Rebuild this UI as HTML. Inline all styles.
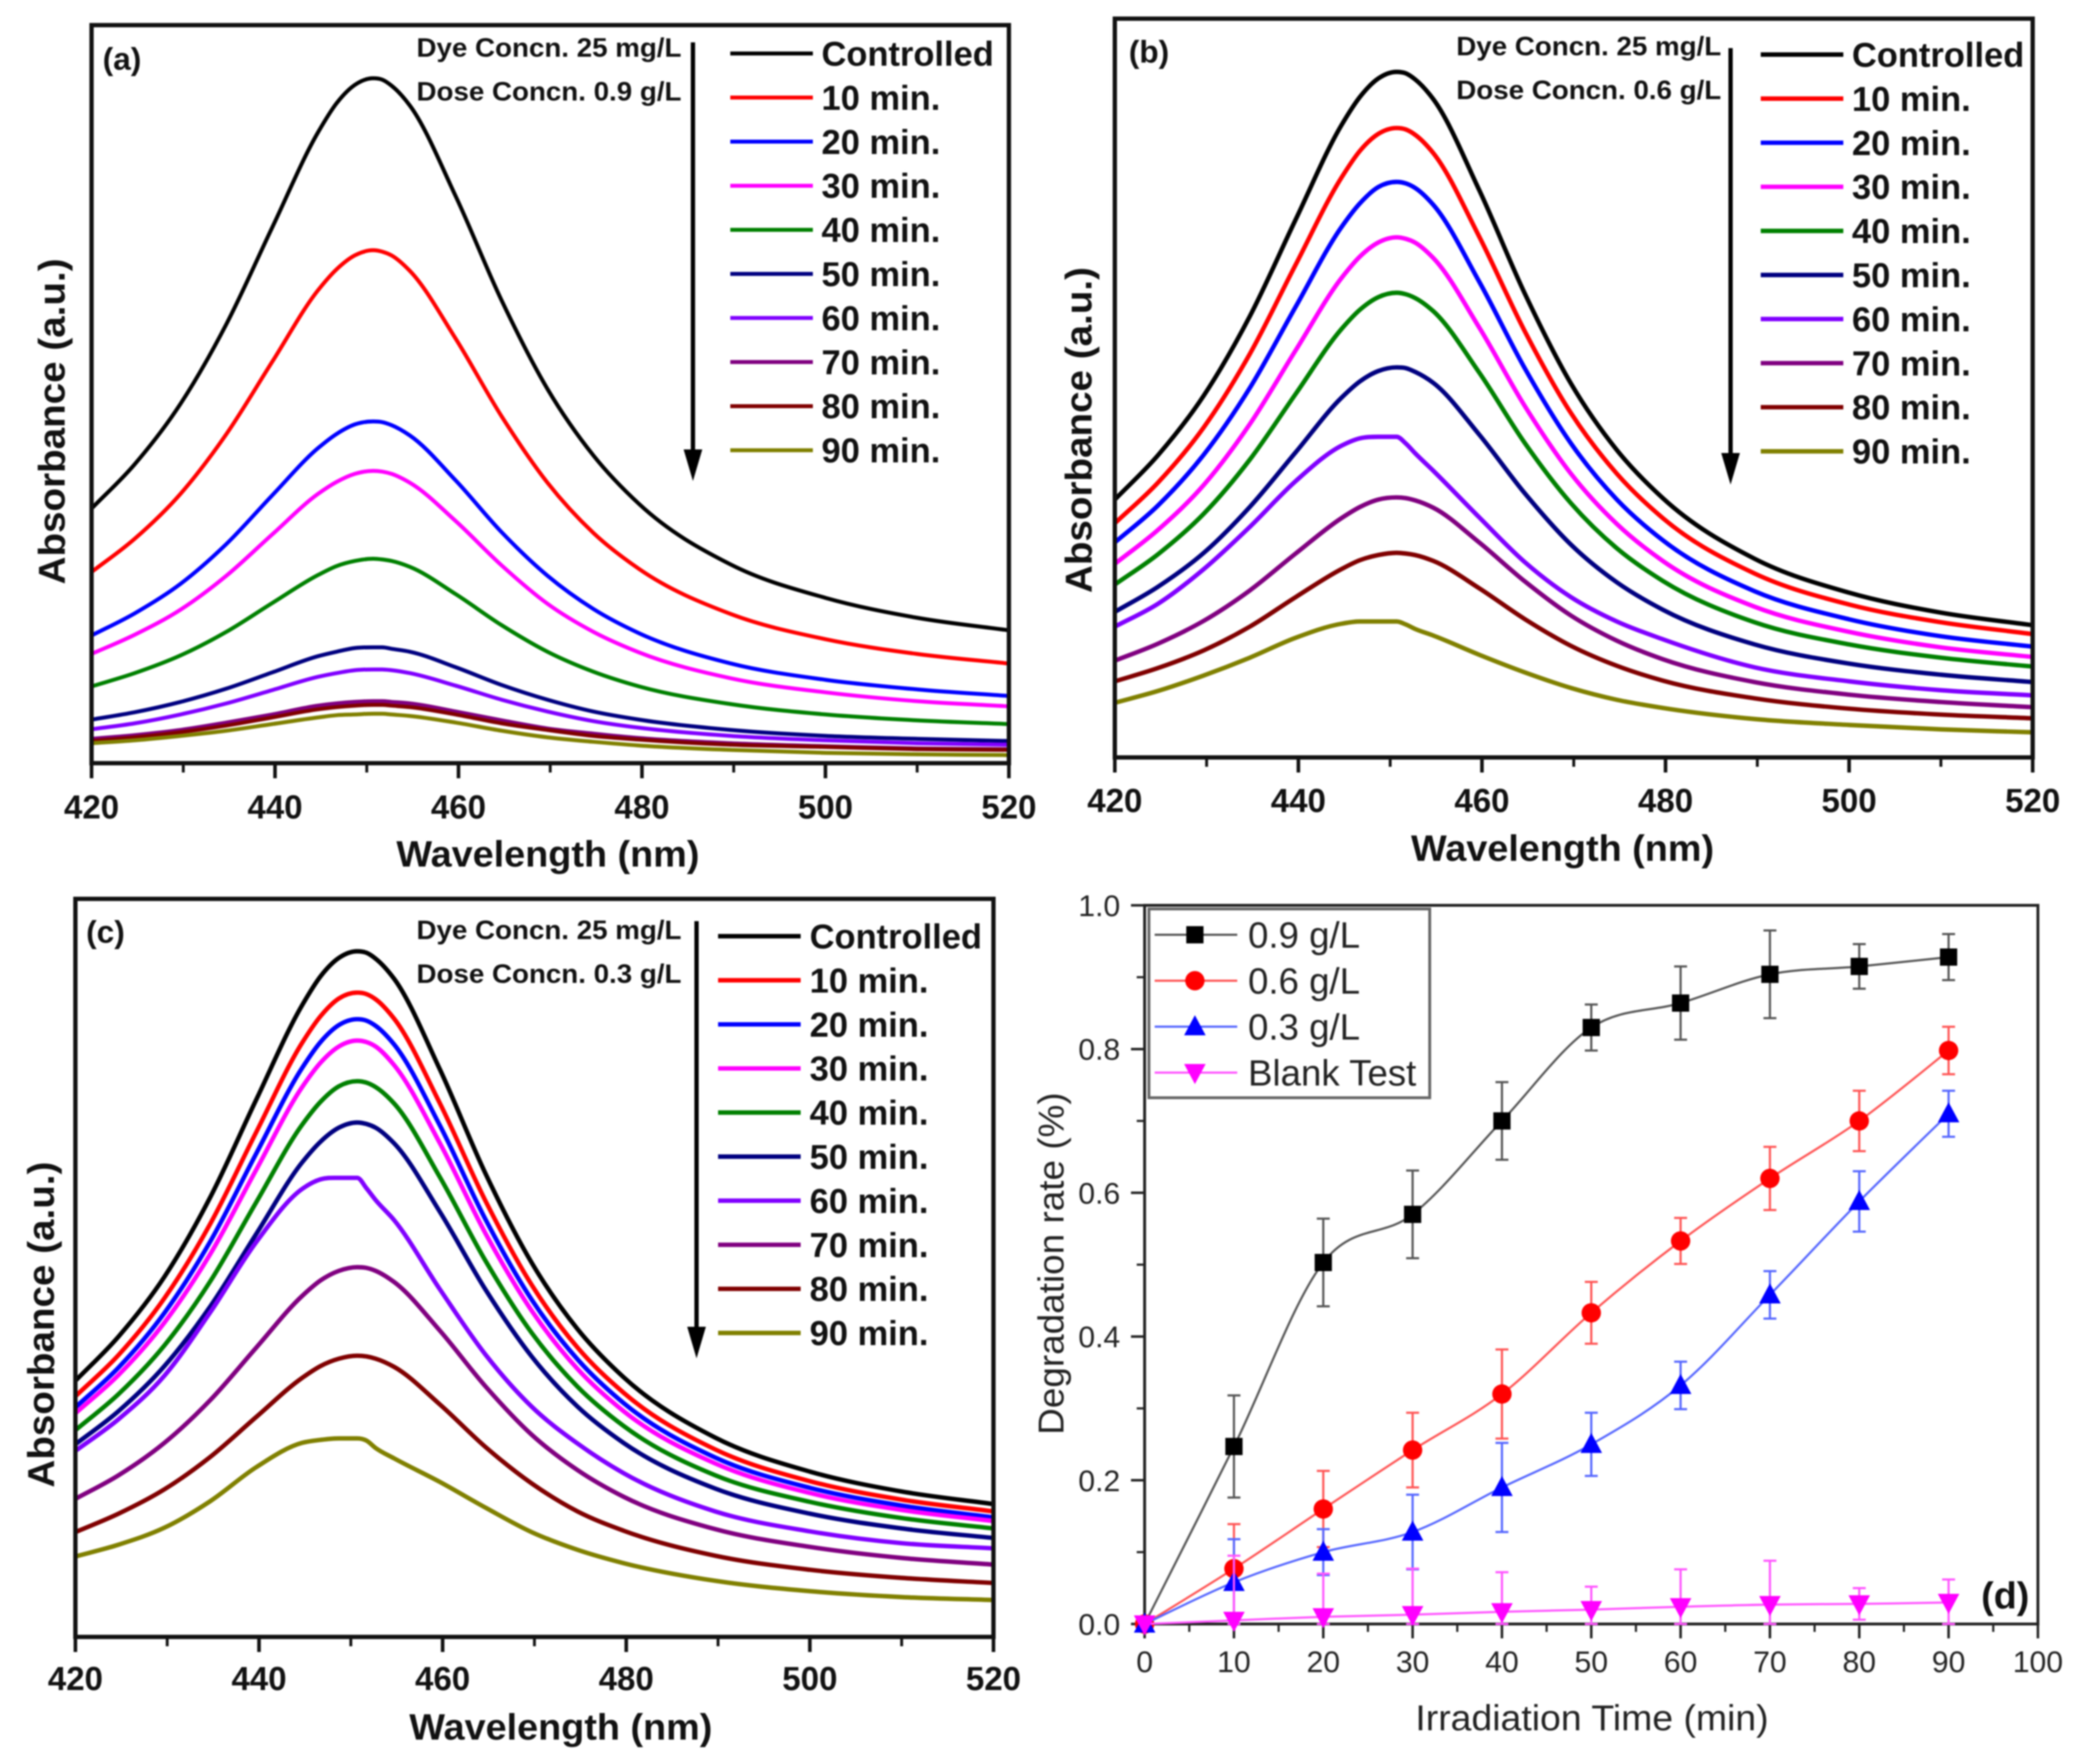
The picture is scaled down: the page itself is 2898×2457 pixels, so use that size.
<!DOCTYPE html>
<html lang="en">
<head>
<meta charset="utf-8">
<title>Absorbance spectra and degradation rate</title>
<style>
html,body{margin:0;padding:0;background:#fff;}
#figure{display:block;filter:blur(1px);font-family:"Liberation Sans",Arial,sans-serif;}
</style>
</head>
<body>
<svg id="figure" xmlns="http://www.w3.org/2000/svg" width="2898" height="2457" viewBox="0 0 2898 2457">
<rect x="0" y="0" width="2898" height="2457" fill="#fff"/>
</svg>
<script>
// ---- Spectra data (absorbance in a.u., axis 0-1000) ----
const wavelengths = [420,424.7,429.7,434.7,439.7,444.7,446.7,448.7,450.7,451.7,452.7,454.7,459.7,464.7,469.7,474.7,479.7,489.7,500,510,520];
const xTickMajor = [420,440,460,480,500,520];
const xTickMinor = [430,450,470,490,510];
const seriesLabels = ['Controlled','10 min.','20 min.','30 min.','40 min.','50 min.','60 min.','70 min.','80 min.','90 min.'];
const seriesColors = ['#000000','#ff0000','#0000ff','#ff00ff','#008000','#000080','#8000ff','#800080','#800000','#808000'];

const aControlled = [345,405,487,595,726,855,894,919,928,926,918,891,768,627,507,417,351,269,224,197,180];
const a10 = [259,304,365,446,544,641,669,688,695,693,688,667,575,470,380,312,263,202,168,148,135];
const a20 = [173,203,243,297,363,427,446,459,463,462,458,444,383,313,254,209,176,135,113,100,91];
const a30 = [148,174,208,254,310,365,381,392,396,395,392,380,328,268,216,178,150,115,96,84,77];
const a40 = [104,122,146,178,217,255,267,274,277,276,274,266,229,187,151,124,104,80,66,58,53];
const a50 = [59,69,83,101,123,145,151,156,157,157,155,151,130,106,86,70,59,45,37,33,30];
const a60 = [46,54,66,81,99,117,122,126,127,127,126,122,105,86,70,57,48,37,31,27,25];
const a70 = [33,38,45,55,66,78,81,83,84,84,83,81,70,58,47,40,34,27,23,20,19];
const a80 = [30,35,42,51,62,73,76,78,79,79,78,76,66,54,45,37,32,25,22,19,18];
const a90 = [27,31,37,44,53,62,65,66,67,67,66,64,55,44,35,29,24,18,14,12,11];

const bControlled = [349,409,490,597,728,856,894,919,928,926,918,891,768,627,506,416,351,269,223,196,179];
const b10 = [317,372,447,546,667,785,821,844,852,850,843,818,705,576,466,384,324,249,207,183,167];
const b20 = [291,341,410,500,610,718,750,772,779,777,771,748,644,526,425,349,294,225,187,164,150];
const b30 = [262,308,369,451,551,649,678,697,704,702,697,676,582,475,384,316,266,204,170,149,136];
const b40 = [234,275,330,403,492,580,606,623,629,627,622,604,521,425,344,283,239,183,153,135,123];
const b50 = [197,231,277,339,413,487,509,523,528,527,522,507,437,357,288,237,200,153,127,112,102];
const b60 = [177,208,255,312,374,422,432,434,434,425,412,388,325,264,217,184,160,122,103,91,84];
const b70 = [131,154,185,226,276,324,339,349,352,351,348,338,291,238,192,158,133,102,85,75,68];
const b80 = [103,121,145,177,217,255,267,274,277,276,274,266,229,187,151,124,104,80,66,58,53];
const b90 = [74,90,111,135,162,181,184,184,184,180,174,165,139,115,94,78,67,52,44,38,34];

const cControlled = [347,407,488,596,728,856,895,920,929,927,919,892,769,627,507,417,352,270,224,197,180];
const c10 = [326,382,459,560,684,805,841,865,873,871,864,838,723,590,477,392,331,254,211,186,170];
const c20 = [311,365,439,536,655,771,806,829,837,835,828,803,693,565,457,376,317,243,202,178,162];
const c30 = [303,355,426,519,633,745,778,800,808,806,800,775,669,546,442,363,306,235,195,172,157];
const c40 = [280,329,395,482,589,694,725,746,753,751,745,723,623,509,412,339,286,219,183,161,147];
const c50 = [261,306,367,448,546,643,671,690,697,695,690,669,576,470,380,312,263,201,167,147,134];
const c60 = [252,295,354,440,535,607,620,622,622,608,592,565,471,382,312,262,222,170,143,127,120];
const c70 = [187,219,263,321,392,462,483,496,501,500,496,481,415,339,274,226,190,146,122,107,98];
const c80 = [142,167,200,244,298,351,367,377,381,380,377,366,315,257,208,170,144,110,91,80,73];
const c90 = [109,125,148,184,230,263,267,269,269,266,256,242,210,175,142,118,100,76,62,54,50];

// ---- Degradation data (panel d) ----
const times = [0,10,20,30,40,50,60,70,80,90];
const dose09 = [0,0.247,0.503,0.570,0.700,0.830,0.864,0.904,0.915,0.928];
const dose06 = [0,0.077,0.160,0.242,0.320,0.433,0.533,0.620,0.700,0.798];
const dose03 = [0,0.058,0.100,0.128,0.190,0.250,0.332,0.458,0.588,0.710];
const blankTest = [0,0.005,0.010,0.013,0.017,0.020,0.024,0.027,0.028,0.030];
const err09 = [0,0.071,0.061,0.061,0.054,0.032,0.051,0.061,0.031,0.032];
const err06 = [0,0.062,0.053,0.052,0.062,0.043,0.032,0.044,0.042,0.033];
const err03 = [0,0.060,0.032,0.052,0.062,0.044,0.033,0.033,0.042,0.032];
const errBlank = [0,0.090,0.060,0.064,0.055,0.032,0.052,0.061,0.022,0.032];
const dTickXMajor = [0,10,20,30,40,50,60,70,80,90,100];
const dTickXMinor = [5,15,25,35,45,55,65,75,85,95];
const dTickYMajor = ['0.0','0.2','0.4','0.6','0.8','1.0'];
const dTickYMinor = [0.1,0.3,0.5,0.7,0.9];

const NS = 'http://www.w3.org/2000/svg';
const root = document.getElementById('figure');
function mk(tag, attrs, parent){
  const n = document.createElementNS(NS, tag);
  for (const k in attrs) n.setAttribute(k, attrs[k]);
  (parent || root).appendChild(n);
  return n;
}
function smooth(pts){
  let d = 'M' + pts[0][0].toFixed(1) + ' ' + pts[0][1].toFixed(1);
  for (let i = 0; i < pts.length - 1; i++){
    const p0 = pts[Math.max(i-1,0)], p1 = pts[i], p2 = pts[i+1], p3 = pts[Math.min(i+2,pts.length-1)];
    const c1x = p1[0] + (p2[0]-p0[0])/6, c1y = p1[1] + (p2[1]-p0[1])/6;
    const c2x = p2[0] - (p3[0]-p1[0])/6, c2y = p2[1] - (p3[1]-p1[1])/6;
    d += 'C' + c1x.toFixed(1) + ' ' + c1y.toFixed(1) + ' ' + c2x.toFixed(1) + ' ' + c2y.toFixed(1) + ' ' + p2[0].toFixed(1) + ' ' + p2[1].toFixed(1);
  }
  return d;
}
// Hermite spline for unevenly spaced x samples
function hermite(pts){
  const n = pts.length;
  const h = [], s = [], m = [];
  for (let i = 0; i < n - 1; i++){
    h[i] = pts[i+1][0] - pts[i][0];
    s[i] = (pts[i+1][1] - pts[i][1]) / h[i];
  }
  m[0] = s[0];
  m[n-1] = s[n-2];
  for (let i = 1; i < n - 1; i++){
    m[i] = (s[i-1] * s[i] <= 0) ? 0 : (h[i] * s[i-1] + h[i-1] * s[i]) / (h[i-1] + h[i]);
  }
  let d = 'M' + pts[0][0].toFixed(2) + ' ' + pts[0][1].toFixed(2);
  for (let i = 0; i < n - 1; i++){
    const t = h[i] / 3;
    d += 'C' + (pts[i][0] + t).toFixed(2) + ' ' + (pts[i][1] + m[i] * t).toFixed(2) + ' ' + (pts[i+1][0] - t).toFixed(2) + ' ' + (pts[i+1][1] - m[i+1] * t).toFixed(2) + ' ' + pts[i+1][0].toFixed(2) + ' ' + pts[i+1][1].toFixed(2);
  }
  return d;
}

function drawSpectra(cfg){
  const g = mk('g', {});
  
  
  const sx = v => cfg.x0 + (v - 420) / 100 * (cfg.x1 - cfg.x0);
  const sy = v => cfg.yb - v / 1000 * (cfg.yb - cfg.yt);

  cfg.series.forEach((vals, i) => {
    const pts = wavelengths.map((w, j) => [sx(w), sy(vals[j])]);
    const p = mk('path', {d: hermite(pts), fill: 'none', stroke: seriesColors[i], 'stroke-width': cfg.lw, 'stroke-linejoin': 'round'}, g);
    
    
  });

  const frame = mk('rect', {x: cfg.x0, y: cfg.yt, width: cfg.x1 - cfg.x0, height: cfg.yb - cfg.yt, fill: 'none', stroke: '#111', 'stroke-width': 6}, g);
  
  

  xTickMajor.forEach(v => {
    const t = mk('line', {x1: sx(v), x2: sx(v), y1: cfg.yb, y2: cfg.yb + 21, stroke: '#111', 'stroke-width': 5}, g);
    
    
    const l = mk('text', {x: sx(v), y: cfg.tickY + 16, 'text-anchor': 'middle', 'font-size': 46, 'font-weight': 'bold', fill: '#111'}, g);
    l.textContent = v;
    
    
  });
  xTickMinor.forEach(v => {
    const t = mk('line', {x1: sx(v), x2: sx(v), y1: cfg.yb, y2: cfg.yb + 13, stroke: '#111', 'stroke-width': 4}, g);
    
    
  });

  const xt = mk('text', {x: cfg.titleX, y: cfg.titleY + 17, 'text-anchor': 'middle', 'font-size': 51, 'font-weight': 'bold', fill: '#111', textLength: 422, lengthAdjust: 'spacingAndGlyphs'}, g);
  xt.textContent = 'Wavelength (nm)';
  
  

  const yt = mk('text', {transform: 'translate(' + (cfg.yTitleX + 18) + ' ' + cfg.yTitleY + ') rotate(-90)', 'text-anchor': 'middle', 'font-size': 52, 'font-weight': 'bold', fill: '#111', textLength: 454, lengthAdjust: 'spacingAndGlyphs'}, g);
  yt.textContent = 'Absorbance (a.u.)';
  
  

  const tag = mk('text', {x: cfg.tagX, y: cfg.tagY + 15, 'font-size': 44, 'font-weight': 'bold', fill: '#111'}, g);
  tag.textContent = '(' + cfg.id + ')';
  
  

  const dye = mk('text', {x: cfg.noteX, y: cfg.noteY1 + 13, 'font-size': 37, 'font-weight': 'bold', fill: '#111', textLength: 369, lengthAdjust: 'spacingAndGlyphs'}, g);
  dye.textContent = 'Dye Concn. 25 mg/L';
  
  
  const dose = mk('text', {x: cfg.noteX, y: cfg.noteY2 + 13, 'font-size': 37, 'font-weight': 'bold', fill: '#111', textLength: 369, lengthAdjust: 'spacingAndGlyphs'}, g);
  dose.textContent = 'Dose Concn. ' + cfg.dose;
  
  

  const shaft = mk('line', {x1: cfg.arrowX, x2: cfg.arrowX, y1: cfg.arrowTop, y2: cfg.arrowBot - 30, stroke: '#000', 'stroke-width': 6}, g);
  
  
  const head = mk('polygon', {points: (cfg.arrowX - 13) + ',' + (cfg.arrowBot - 44) + ' ' + (cfg.arrowX + 13) + ',' + (cfg.arrowBot - 44) + ' ' + cfg.arrowX + ',' + cfg.arrowBot, fill: '#000'}, g);
  
  

  seriesLabels.forEach((lab, i) => {
    const y = cfg.legY + i * 61.4;
    const ln = mk('line', {x1: cfg.legX1, x2: cfg.legX2, y1: y, y2: y, stroke: seriesColors[i], 'stroke-width': cfg.lw}, g);
    
    
    const tx = mk('text', {x: cfg.legTextX, y: y + 17, 'font-size': 48, 'font-weight': 'bold', fill: '#111'}, g);
    tx.textContent = lab;
    
    
  });
}

drawSpectra({id:'a', series:[aControlled,a10,a20,a30,a40,a50,a60,a70,a80,a90], lw:5.5,
  x0:127.5, x1:1405, yt:35, yb:1063, tickY:1124, titleX:763, titleY:1190, yTitleX:72, yTitleY:587,
  tagX:143, tagY:82, noteX:580, noteY1:66, noteY2:127, dose:'0.9 g/L', arrowX:965, arrowTop:59, arrowBot:670,
  legX1:1017, legX2:1132, legTextX:1144, legY:74.5});
drawSpectra({id:'b', series:[bControlled,b10,b20,b30,b40,b50,b60,b70,b80,b90], lw:6.2,
  x0:1552.5, x1:2830.7, yt:26, yb:1055, tickY:1115, titleX:2176, titleY:1182, yTitleX:1502, yTitleY:599,
  tagX:1572, tagY:72, noteX:2028, noteY1:64, noteY2:125, dose:'0.6 g/L', arrowX:2410, arrowTop:67, arrowBot:675,
  legX1:2452, legX2:2567, legTextX:2579, legY:76});
drawSpectra({id:'c', series:[cControlled,c10,c20,c30,c40,c50,c60,c70,c80,c90], lw:6.2,
  x0:105, x1:1383.5, yt:1252, yb:2280, tickY:2338, titleX:781, titleY:2406, yTitleX:57, yTitleY:1845,
  tagX:120, tagY:1298, noteX:580, noteY1:1295, noteY2:1356, dose:'0.3 g/L', arrowX:970, arrowTop:1283, arrowBot:1892,
  legX1:1000, legX2:1115, legTextX:1127.5, legY:1304});

// ---- Panel d ----
(function(){
  const X0 = 1594, X1 = 2838, Y0 = 2262, Y1 = 1261;
  const sx = v => X0 + v / 100 * (X1 - X0);
  const sy = v => Y0 - v * (Y0 - Y1);
  const g = mk('g', {});
  
  

  const frame = mk('path', {d: 'M' + X0 + ' ' + Y0 + 'V' + Y1 + 'H' + X1 + 'V' + Y0 + 'Z', fill: 'none', stroke: '#222', 'stroke-width': 4}, g);
  
  

  dTickXMajor.forEach(v => {
    const t = mk('line', {x1: sx(v), x2: sx(v), y1: Y0, y2: Y0 + 20, stroke: '#222', 'stroke-width': 3.5}, g);
    
    
    const l = mk('text', {x: sx(v), y: 2329, 'text-anchor': 'middle', 'font-size': 42, fill: '#222'}, g);
    l.textContent = v;
    
    
  });
  dTickXMinor.forEach(v => {
    const t = mk('line', {x1: sx(v), x2: sx(v), y1: Y0, y2: Y0 + 11, stroke: '#222', 'stroke-width': 3}, g);
    
    
  });
  dTickYMajor.forEach(lab => {
    const v = parseFloat(lab);
    const t = mk('line', {x1: X0 - 19, x2: X0, y1: sy(v), y2: sy(v), stroke: '#222', 'stroke-width': 3.5}, g);
    
    
    const l = mk('text', {x: 1560, y: sy(v) + 15, 'text-anchor': 'end', 'font-size': 42, fill: '#222'}, g);
    l.textContent = lab;
    
    
  });
  dTickYMinor.forEach(v => {
    const t = mk('line', {x1: X0 - 11, x2: X0, y1: sy(v), y2: sy(v), stroke: '#222', 'stroke-width': 3}, g);
    
    
  });

  const xt = mk('text', {x: 2217, y: 2410, 'text-anchor': 'middle', 'font-size': 50, fill: '#222', textLength: 492, lengthAdjust: 'spacingAndGlyphs'}, g);
  xt.textContent = 'Irradiation Time (min)';
  
  
  const yt = mk('text', {transform: 'translate(1481 1760) rotate(-90)', 'text-anchor': 'middle', 'font-size': 50, fill: '#222', textLength: 477, lengthAdjust: 'spacingAndGlyphs'}, g);
  yt.textContent = 'Degradation rate (%)';
  
  

  function marker(kind, cx, cy, color, parent){
    let m;
    if (kind === 'square') m = mk('rect', {x: cx - 12, y: cy - 12, width: 24, height: 24, fill: color}, parent);
    else if (kind === 'circle') m = mk('circle', {cx: cx, cy: cy, r: 13.5, fill: color}, parent);
    else if (kind === 'up') m = mk('polygon', {points: cx + ',' + (cy - 16) + ' ' + (cx + 15) + ',' + (cy + 12) + ' ' + (cx - 15) + ',' + (cy + 12), fill: color}, parent);
    else m = mk('polygon', {points: cx + ',' + (cy + 16) + ' ' + (cx + 15) + ',' + (cy - 12) + ' ' + (cx - 15) + ',' + (cy - 12), fill: color}, parent);
    return m;
  }

  const groups = [
    {vals: dose09, errs: err09, color: '#000000', line: '#555555', kind: 'square', label: '0.9 g/L'},
    {vals: dose06, errs: err06, color: '#ff0000', line: '#ff5555', kind: 'circle', label: '0.6 g/L'},
    {vals: dose03, errs: err03, color: '#0000ff', line: '#5566ff', kind: 'up', label: '0.3 g/L'},
    {vals: blankTest, errs: errBlank, color: '#ff00ff', line: '#ff55ff', kind: 'down', label: 'Blank Test'}
  ];
  groups.forEach(s => {
    const sg = mk('g', {}, g);
    
    
    const path = mk('path', {d: smooth(times.map((t, i) => [sx(t), sy(s.vals[i])])), fill: 'none', stroke: s.line, 'stroke-width': 3}, sg);
    
    
    times.forEach((t, i) => {
      if (i === 0) return;
      const hi = sy(s.vals[i] + s.errs[i]), lo = sy(Math.max(s.vals[i] - s.errs[i], 0));
      const bar = mk('path', {d: 'M' + sx(t) + ' ' + lo + 'V' + hi + 'M' + (sx(t) - 9) + ' ' + hi + 'h18M' + (sx(t) - 9) + ' ' + lo + 'h18', fill: 'none', stroke: s.line, 'stroke-width': 3}, sg);
      
      
    });
    times.forEach((t, i) => {
      const m = marker(s.kind, sx(t), sy(s.vals[i]), s.color, sg);
      
      
    });
  });

  const lg = mk('g', {}, g);
  
  
  const box = mk('rect', {x: 1600, y: 1266, width: 391, height: 263, fill: '#fff', stroke: '#666', 'stroke-width': 4}, lg);
  
  
  groups.forEach((s, i) => {
    const y = 1302 + i * 64;
    const ln = mk('line', {x1: 1608, x2: 1723, y1: y, y2: y, stroke: s.line, 'stroke-width': 3}, lg);
    
    
    const m = marker(s.kind, 1664, y, s.color, lg);
    
    
    const tx = mk('text', {x: 1738, y: y + 18, 'font-size': 51, fill: '#222'}, lg);
    tx.textContent = s.label;
    
    
  });

  const tag = mk('text', {x: 2759, y: 2240, 'font-size': 52, 'font-weight': 'bold', fill: '#111', textLength: 67, lengthAdjust: 'spacingAndGlyphs'}, g);
  tag.textContent = '(d)';
  
  
})();
</script>
</body>
</html>
